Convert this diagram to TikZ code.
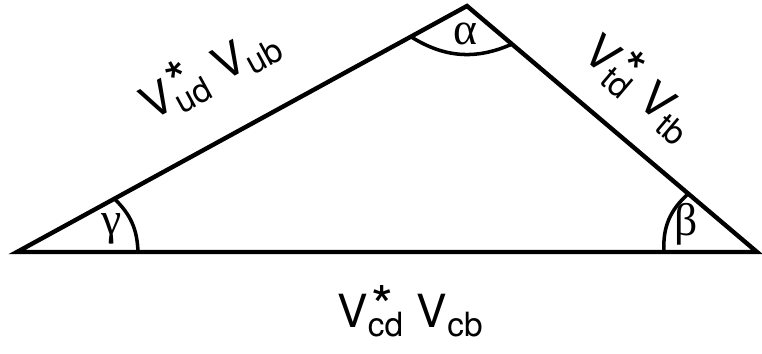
\documentclass[tikz,border=0pt]{standalone}
\usepackage{fontspec}
\setmainfont{TeX Gyre Heros}
\newfontfamily\greekfont{Liberation Serif}
\usetikzlibrary{calc}
\newcommand{\ckmstar}[1]{V\rlap{\hspace{0.08em}\raisebox{0.04em}{\fontsize{32}{32}\selectfont *}}\raisebox{-0.18em}{\fontsize{19}{19}\selectfont #1}}
\newcommand{\ckmplain}[1]{V\raisebox{-0.18em}{\fontsize{19}{19}\selectfont #1}}

\begin{document}
\begin{tikzpicture}[x=0.02cm,y=0.02cm,
    side/.style={line width=2.5pt,line join=miter},
    anglearc/.style={line width=2pt},
    ckmlabel/.style={anchor=base,inner sep=0pt,font=\fontsize{26}{30}\selectfont},
    anglelabel/.style={anchor=base,inner sep=0pt,font=\greekfont\fontsize{26}{30}\selectfont}]
        \useasboundingbox (0,0) rectangle (762,354);
        \coordinate (gam) at (17,102);
        \coordinate (alp) at (467,348);
        \coordinate (bet) at (757,102);
        \draw[side] (gam) -- (alp) -- (bet) -- cycle;

        % angle arcs
        \coordinate (alpL) at ($(alp)!0.1248!(gam)$);
        \coordinate (alpR) at ($(alp)!0.155!(bet)$);
        \coordinate (gamB) at ($(gam)!0.1635!(bet)$);
        \coordinate (gamS) at ($(gam)!0.2164!(alp)$);
        \coordinate (betB) at ($(bet)!0.1257!(gam)$);
        \coordinate (betS) at ($(bet)!0.2367!(alp)$);
        \draw[anglearc] (alpL) to[bend right=28] (alpR);
        \draw[anglearc] (gamB) to[bend right=22] (gamS);
        \draw[anglearc] (betB) to[bend left=26] (betS);

        \node[anglelabel] (alabel) at (465,309) {α};
        \node[anglelabel] (glabel) at (112,119) {γ};
        \node[anglelabel] (blabel) at (686,118) {β};

        \node[ckmlabel,rotate=28.66] (uside) at (217,268) {\ckmstar{ud}\hspace{0.3em}\ckmplain{ub}};
        \node[ckmlabel,rotate=-40.3] (tside) at (630,255) {\ckmstar{td}\hspace{0.3em}\ckmplain{tb}};
        \node[ckmlabel] (cside) at (410,26) {\ckmstar{cd}\hspace{0.3em}\ckmplain{cb}};
      \end{tikzpicture}
\end{document}
